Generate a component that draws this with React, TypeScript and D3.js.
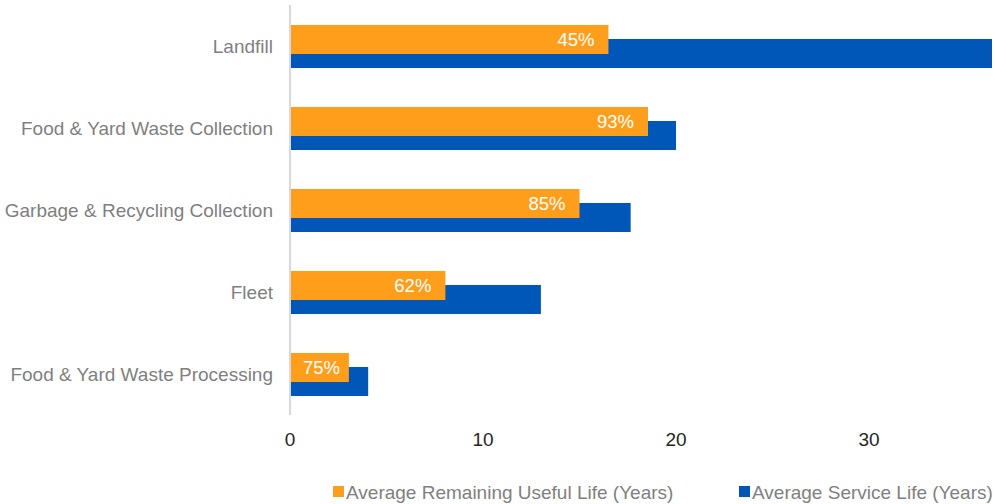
import React from "react";
import * as d3 from "d3";

const categories = [
  "Landfill",
  "Food & Yard Waste Collection",
  "Garbage & Recycling Collection",
  "Fleet",
  "Food & Yard Waste Processing",
];
const remainingLife = [16.5, 18.55, 15.0, 8.05, 3.05];
const serviceLife = [36.4, 20.0, 17.65, 13.0, 4.05];
const pctLabels = ["45%", "93%", "85%", "62%", "75%"];
const xTicks = [0, 10, 20, 30];
const seriesNames = [
  "Average Remaining Useful Life (Years)",
  "Average Service Life (Years)",
];
const colors = ["#FF9E1B", "#0057B8"];

const W = 995;
const H = 504;

export default function App() {
  const x = d3.scaleLinear().domain([0, 40]).range([290, 290 + 19.3 * 40]);
  const y = d3.scaleBand<string>().domain(categories).range([5, 415]);
  const barH = 29;
  const font = "'Liberation Sans', Arial, sans-serif";

  return (
    <svg width={W} height={H} style={{ position: "absolute", left: 0, top: 0 }}>
      <defs>
        <clipPath id="plot">
          <rect x={290} y={0} width={702} height={420} />
        </clipPath>
      </defs>
      <rect x={0} y={0} width={W} height={H} fill="#fff" />
      <g clipPath="url(#plot)">
        {categories.map((c, i) => {
          const cy = (y(c) as number) + y.bandwidth() / 2;
          const lx = Math.max(x(remainingLife[i]) - 14, x(0) + 50);
          return (
            <g key={c}>
              <rect
                x={x(0)}
                y={cy - 7}
                width={x(serviceLife[i]) - x(0)}
                height={barH}
                fill={colors[1]}
              />
              <rect
                x={x(0)}
                y={cy - 21}
                width={x(remainingLife[i]) - x(0)}
                height={barH}
                fill={colors[0]}
              />
              <text
                x={lx}
                y={cy - 6.5}
                dy="0.35em"
                textAnchor="end"
                fill="#fff"
                fontFamily={font}
                fontSize={18.5}
              >
                {pctLabels[i]}
              </text>
            </g>
          );
        })}
      </g>
      <line x1={290} x2={290} y1={5} y2={415} stroke="#D9D9D9" strokeWidth={2} />
      {categories.map((c) => {
        const cy = (y(c) as number) + y.bandwidth() / 2;
        return (
          <text
            key={c}
            x={273}
            y={cy}
            dy="0.35em"
            textAnchor="end"
            fill="#7F7F7F"
            fontFamily={font}
            fontSize={19}
          >
            {c}
          </text>
        );
      })}
      {xTicks.map((t) => (
        <text
          key={t}
          x={x(t)}
          y={439}
          dy="0.35em"
          textAnchor="middle"
          fill="#262626"
          fontFamily={font}
          fontSize={19}
        >
          {t}
        </text>
      ))}
      <g>
        <rect x={333} y={486} width={11} height={11} fill={colors[0]} />
        <text x={346} y={499} fill="#7F7F7F" fontFamily={font} fontSize={19}>
          {seriesNames[0]}
        </text>
        <rect x={739} y={486} width={11} height={11} fill={colors[1]} />
        <text x={752} y={499} fill="#7F7F7F" fontFamily={font} fontSize={19}>
          {seriesNames[1]}
        </text>
      </g>
    </svg>
  );
}
